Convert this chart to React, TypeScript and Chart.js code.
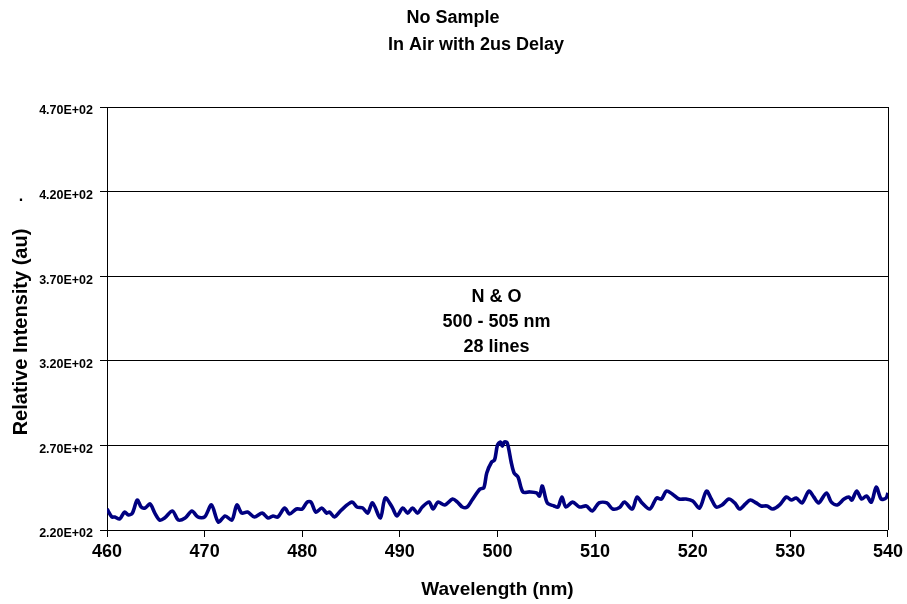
import React, { useEffect, useRef } from "react";
import { Chart, registerables } from "chart.js";

Chart.register(...registerables);

const titleLines = ["No Sample", "In Air with 2us Delay"];
const xTitle = "Wavelength (nm)";
const yTitle = "Relative Intensity (au)";
const annotationLines = ["N & O", "500 - 505 nm", "28 lines"];
const xTicks = [460, 470, 480, 490, 500, 510, 520, 530, 540];
const yTicks = [220, 270, 320, 370, 420, 470];

const wavelengths = [
  460.0, 460.5, 460.8, 461.3, 461.8, 462.2, 462.6, 463.1, 463.5, 463.9,
  464.4, 464.9, 465.4, 465.9, 466.7, 467.3, 468.0, 468.7, 469.3, 470.0,
  470.7, 471.4, 472.1, 472.8, 473.3, 473.8, 474.4, 475.1, 475.9, 476.5,
  477.0, 477.5, 478.2, 478.7, 479.4, 480.0, 480.5, 480.9, 481.4, 482.0,
  482.5, 482.8, 483.3, 484.0, 485.1, 485.6, 486.2, 486.7, 487.2, 488.0,
  488.5, 489.2, 489.7, 490.3, 490.8, 491.3, 491.8, 492.3, 493.0, 493.4,
  493.9, 494.6, 495.4, 495.9, 496.4, 496.9, 497.4, 498.2, 498.6, 498.9,
  499.4, 499.7, 500.0, 500.3, 500.5, 500.7, 501.0, 501.4, 501.7, 502.1,
  502.6, 503.3, 504.0, 504.3, 504.6, 505.1, 505.8, 506.2, 506.6, 507.0,
  507.7, 508.4, 509.1, 509.7, 510.4, 511.2, 511.8, 512.5, 513.0, 513.8,
  514.3, 514.8, 515.6, 516.3, 516.8, 517.3, 517.9, 518.6, 519.3, 520.0,
  520.7, 521.4, 521.9, 522.4, 523.0, 523.7, 524.3, 524.8, 525.4, 525.9,
  526.5, 527.0, 527.6, 528.2, 528.9, 529.6, 530.1, 530.6, 531.2, 531.9,
  532.4, 532.9, 533.7, 534.2, 534.8, 535.5, 536.0, 536.3, 536.8, 537.3,
  537.8, 538.3, 538.8, 539.3, 539.8, 540.0,
];

const intensities = [
  232.4, 227.7, 227.7, 226.5, 230.6, 228.9, 230.0, 237.7, 233.6, 233.0,
  235.4, 230.0, 225.9, 227.1, 231.2, 225.9, 227.1, 231.2, 227.7, 227.7,
  234.8, 224.7, 228.3, 225.9, 234.8, 230.0, 230.6, 227.7, 230.0, 227.1,
  228.3, 227.7, 233.0, 229.5, 232.4, 232.4, 236.5, 236.5, 230.6, 233.0,
  230.0, 230.6, 227.7, 231.8, 236.5, 233.6, 233.0, 230.0, 236.0, 227.1,
  238.9, 233.6, 228.3, 233.0, 230.0, 233.0, 230.0, 233.6, 236.5, 232.4,
  236.5, 234.8, 238.3, 236.5, 233.6, 233.6, 237.7, 244.2, 245.0, 253.7,
  260.2, 261.4, 270.2, 272.0, 269.5, 272.0, 271.4, 260.2, 253.7, 251.3,
  242.5, 242.5, 241.9, 240.1, 246.0, 236.0, 234.2, 233.6, 239.5, 233.6,
  236.5, 233.6, 234.2, 231.2, 236.0, 236.0, 232.4, 233.3, 236.5, 232.4,
  239.5, 236.0, 232.4, 238.9, 238.3, 243.0, 241.3, 238.3, 238.3, 237.1,
  233.0, 243.0, 238.3, 233.6, 234.8, 238.3, 236.0, 232.4, 235.4, 237.7,
  236.0, 234.2, 234.2, 232.4, 234.8, 239.5, 237.7, 238.9, 236.0, 243.0,
  239.5, 236.0, 241.9, 236.5, 234.8, 238.3, 239.5, 237.7, 243.0, 238.3,
  240.1, 236.5, 245.4, 238.3, 238.9, 241.9,
];

const FONT = "'Liberation Sans', Arial, Helvetica, sans-serif";

const extrasPlugin = {
  id: "extras",
  afterDraw(chart: any) {
    const { ctx, chartArea, scales } = chart;
    ctx.save();
    // right border
    ctx.strokeStyle = "#000";
    ctx.lineWidth = 1;
    ctx.beginPath();
    const rx = Math.round(chartArea.right) + 0.5;
    ctx.moveTo(rx, chartArea.top);
    ctx.lineTo(rx, chartArea.bottom);
    ctx.stroke();

    ctx.fillStyle = "#000";
    ctx.textBaseline = "middle";
    ctx.textAlign = "center";

    // chart title
    ctx.font = `bold 18px ${FONT}`;
    ctx.fillText(titleLines[0], 453, 18);
    ctx.fillText(titleLines[1], 476, 45);

    // y axis title
    ctx.save();
    ctx.font = `bold 20px ${FONT}`;
    ctx.translate(21, 332);
    ctx.rotate(-Math.PI / 2);
    ctx.fillText(yTitle, 0, 0);
    ctx.restore();

    // annotation
    ctx.font = `bold 18px ${FONT}`;
    const ax = scales.x.getPixelForValue(499.9);
    const ay = scales.y.getPixelForValue(357.5);
    annotationLines.forEach((t, i) => ctx.fillText(t, ax, ay + i * 25));

    // stray dot
    ctx.font = `bold 16px ${FONT}`;
    ctx.fillText(".", chartArea.left - 86, scales.y.getPixelForValue(417));
    ctx.restore();
  },
};

export default function App() {
  const ref = useRef<HTMLCanvasElement>(null);
  useEffect(() => {
    document.body.style.margin = "0";
    const chart = new Chart(ref.current as HTMLCanvasElement, {
      type: "line",
      data: {
        datasets: [
          {
            data: wavelengths.map((x, i) => ({ x, y: intensities[i] })),
            borderColor: "#000080",
            borderWidth: 3.6,
            pointRadius: 0,
            tension: 0.3,
            fill: false,
          },
        ],
      },
      options: {
        animation: false,
        responsive: false,
        layout: { padding: { left: 0, right: 18, top: 107, bottom: 0 } },
        plugins: {
          legend: { display: false },
          tooltip: { enabled: false },
          title: { display: false },
        },
        scales: {
          x: {
            type: "linear",
            min: 460,
            max: 540,
            afterBuildTicks: (s: any) => {
              s.ticks = xTicks.map((v) => ({ value: v }));
            },
            afterFit: (s: any) => {
              s.height = 74;
            },
            border: { display: true, color: "#000", width: 1 },
            grid: {
              drawOnChartArea: false,
              drawTicks: true,
              tickLength: 7,
              color: "#000",
            },
            ticks: {
              color: "#000",
              font: { family: FONT, size: 18, weight: "bold" },
              padding: 4,
              maxRotation: 0,
              autoSkip: false,
            },
            title: {
              display: true,
              text: xTitle,
              color: "#000",
              font: { family: FONT, size: 19, weight: "bold" },
              padding: { top: 0, bottom: 3 },
            },
          },
          y: {
            type: "linear",
            min: 220,
            max: 470,
            afterBuildTicks: (s: any) => {
              s.ticks = yTicks.map((v) => ({ value: v }));
            },
            afterFit: (s: any) => {
              s.width = 107;
            },
            border: { display: true, color: "#000", width: 1 },
            grid: {
              drawTicks: true,
              tickLength: 7,
              color: "#000",
              lineWidth: 1,
            },
            ticks: {
              color: "#000",
              font: { family: FONT, size: 12.5, weight: "bold" },
              padding: 7,
              labelOffset: 4,
              autoSkip: false,
              callback: (v: any) => {
                const n = Number(v);
                const e = Math.floor(Math.log10(n));
                const m = (n / Math.pow(10, e)).toFixed(2);
                return `${m}E+${String(e).padStart(2, "0")}`;
              },
            },
            title: { display: false },
          },
        },
      },
      plugins: [extrasPlugin],
    });
    return () => chart.destroy();
  }, []);
  return (
    <div style={{ position: "absolute", left: 0, top: 0, width: 907, height: 604, background: "#fff" }}>
      <canvas ref={ref} width={907} height={604} style={{ display: "block" }} />
    </div>
  );
}
